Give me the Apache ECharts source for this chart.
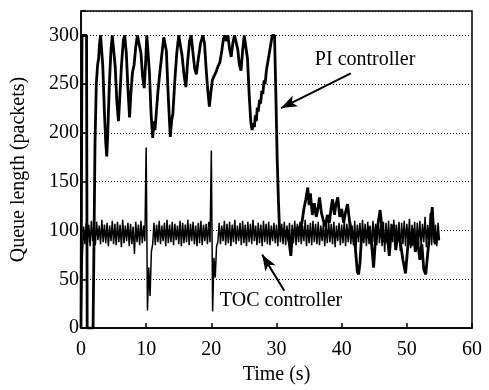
<!DOCTYPE html>
<html>
<head>
<meta charset="utf-8">
<script src="https://cdn.jsdelivr.net/npm/echarts@6/dist/echarts.min.js"></script>
<style>
  html, body { margin: 0; padding: 0; background: #fff; }
  #chart { width: 489px; height: 390px; }
</style>
</head>
<body>
<div id="chart"></div>
<script>
// PI controller queue length (time in s, packets)
const piTime = [
  0, 0.15, 0.85, 0.95, 1.85, 1.95, 2.15, 2.35, 2.55, 2.7,
  2.85, 3.0, 3.15, 3.35, 3.6, 3.8, 3.95, 4.1, 4.35, 4.6,
  4.8, 5.0, 5.25, 5.5, 5.75, 5.95, 6.2, 6.5, 6.7, 6.95,
  7.2, 7.45, 7.65, 7.9, 8.15, 8.4, 8.65, 8.95, 9.2, 9.45,
  9.7, 9.9, 10.1, 10.3, 10.5, 10.75, 11.0, 11.2, 11.35, 11.55,
  11.8, 12.1, 12.4, 12.7, 12.9, 13.1, 13.4, 13.7, 13.9, 14.1,
  14.4, 14.7, 15.0, 15.25, 15.5, 15.8, 16.1, 16.35, 16.65, 16.9,
  17.15, 17.45, 17.7, 18.0, 18.35, 18.7, 18.95, 19.2, 19.45, 19.7,
  19.9, 20.15, 20.4, 20.7, 21.0, 21.3, 21.6, 21.85, 22.05, 22.3,
  22.55, 22.8, 23.05, 23.3, 23.55, 23.8, 24.05, 24.3, 24.55, 24.8,
  25.05, 25.3, 25.55, 25.8, 26.05, 26.25, 26.45, 26.6, 26.75, 26.9,
  27.05, 27.2, 27.4, 27.55, 27.75, 27.9, 28.1, 28.25, 28.45, 28.6,
  28.8, 28.95, 29.15, 29.35, 29.7, 29.9, 30.1, 30.3, 30.45, 30.7,
  31.0, 31.3, 31.6, 31.9, 32.2, 32.4, 32.7, 33.0, 33.3, 33.6,
  33.9, 34.2, 34.5, 34.8, 35.0, 35.2, 35.5, 35.8, 36.1, 36.4,
  36.6, 36.9, 37.2, 37.5, 37.8, 38.1, 38.4, 38.6, 38.9, 39.1,
  39.4, 39.7, 40.0, 40.3, 40.6, 40.9, 41.2, 41.5, 41.8, 42.1,
  42.4, 42.6, 42.8, 43.0, 43.4, 43.8, 44.2, 44.6, 44.9, 45.2,
  45.6, 45.9, 46.2, 46.6, 47.0, 47.3, 47.6, 48.0, 48.3, 48.6,
  49.0, 49.4, 49.8, 50.1, 50.4, 50.7, 51.0, 51.3, 51.6, 52.0,
  52.3, 52.6, 52.9, 53.2, 53.5, 53.7, 53.9, 54.1, 54.4, 54.7,
  54.9
];
const piQueue = [
  0, 300, 300, 0, 0, 60, 190, 250, 270, 276,
  292, 300, 300, 268, 220, 190, 176, 198, 250, 285,
  300, 300, 268, 232, 212, 236, 268, 295, 300, 282,
  246, 216, 240, 262, 270, 288, 300, 300, 282, 258,
  246, 270, 300, 300, 262, 220, 195, 212, 203, 220,
  242, 262, 280, 298, 300, 284, 236, 196, 212, 220,
  254, 282, 300, 300, 280, 260, 247, 272, 294, 300,
  284, 266, 260, 276, 292, 300, 292, 266, 244, 227,
  240, 254, 258, 262, 268, 272, 284, 296, 300, 294,
  300, 286, 278, 292, 300, 300, 286, 270, 264, 284,
  300, 300, 276, 240, 212, 203, 210, 206, 218, 212,
  226, 222, 234, 230, 243, 240, 254, 250, 264, 262,
  278, 276, 292, 300, 300, 240, 175, 130, 104, 96,
  102, 94, 100, 90, 74, 92, 101, 95, 104, 98,
  108, 122, 132, 144, 126, 138, 116, 128, 114, 124,
  134, 118, 110, 104, 116, 108, 124, 132, 116, 126,
  134, 114, 122, 108, 119, 127, 110, 100, 94, 82,
  58, 55, 66, 88, 101, 92, 104, 86, 62, 92,
  108, 121, 102, 88, 96, 74, 98, 106, 80, 96,
  88, 70, 56, 80, 98, 84, 102, 78, 92, 70,
  86, 60, 55, 76, 96, 110, 124, 100, 86, 96,
  90
];

// TOC controller queue length, one sample every tocStep seconds from 0 s
const tocStep = 0.2;
const tocQueue = [
  0, 72, 104, 86, 108, 88, 106, 84, 110, 89,
  107, 85, 109, 90, 105, 86, 111, 88, 106, 87,
  108, 84, 105, 89, 110, 86, 107, 85, 109, 88,
  106, 83, 111, 87, 105, 89, 108, 84, 107, 86,
  104, 76, 109, 88, 106, 85, 110, 87, 105, 89,
  185, 18, 62, 33, 78, 86, 108, 85, 106, 88,
  110, 86, 105, 89, 108, 84, 111, 87, 106, 88,
  109, 85, 107, 90, 105, 86, 110, 84, 108, 87,
  106, 88, 111, 85, 107, 89, 109, 86, 105, 84,
  108, 87, 110, 85, 106, 89, 107, 86, 109, 88,
  182, 17, 72, 52, 84, 88, 108, 86, 105, 89,
  110, 85, 107, 87, 109, 84, 106, 88, 111, 86,
  105, 89, 108, 85, 110, 87, 106, 84, 109, 88,
  107, 86, 111, 89, 105, 85, 108, 87, 106, 84,
  110, 88, 107, 86, 109, 85, 105, 89, 108, 87,
  106, 84, 110, 88, 107, 86, 109, 85, 105, 89,
  108, 76, 106, 87, 110, 85, 107, 88, 109, 86,
  105, 89, 111, 84, 106, 87, 108, 85, 110, 88,
  107, 86, 109, 85, 105, 89, 108, 84, 106, 87,
  110, 88, 107, 86, 109, 83, 105, 89, 108, 85,
  106, 87, 111, 84, 107, 88, 109, 86, 105, 85,
  110, 82, 106, 88, 108, 85, 111, 87, 107, 84,
  109, 86, 105, 80, 110, 88, 107, 85, 112, 87,
  106, 84, 109, 78, 108, 86, 110, 83, 107, 88,
  111, 85, 106, 87, 109, 79, 108, 86, 110, 84,
  107, 88, 112, 82, 106, 85, 109, 80, 108, 86,
  110, 84, 107, 88, 114, 83, 106, 86, 118, 85,
  109, 87, 106, 84, 108, 90
];

const xTicks = [0, 10, 20, 30, 40, 50, 60];
const yTicks = [0, 50, 100, 150, 200, 250, 300];

const font = 'Liberation Serif';
const piData = piTime.map((t, i) => [t, piQueue[i]]);
const tocData = tocQueue.map((v, i) => [+(i * tocStep).toFixed(2), v]);

const chart = echarts.init(document.getElementById('chart'));
chart.setOption({
  animation: false,
  grid: {
    left: 81, right: 17, top: 11, bottom: 57,
    show: true, borderColor: '#000', borderWidth: 1.5, backgroundColor: '#fff'
  },
  xAxis: {
    type: 'value', min: 0, max: 60, interval: 10,
    name: 'Time (s)', nameLocation: 'middle', nameGap: 32,
    nameTextStyle: { fontFamily: font, fontSize: 20, color: '#000' },
    axisLine: { onZero: false, lineStyle: { color: '#000', width: 1.5 } },
    axisTick: { inside: true, length: 5, lineStyle: { color: '#000', width: 1.5 } },
    axisLabel: {
      margin: 12, fontFamily: font, fontSize: 20, color: '#000',
      formatter: v => xTicks.includes(v) ? String(v) : ''
    },
    splitLine: { show: false }
  },
  yAxis: {
    type: 'value', min: 0, max: 325, interval: 50,
    name: 'Queue length (packets)', nameLocation: 'middle', nameGap: 52,
    nameTextStyle: { fontFamily: font, fontSize: 20, color: '#000' },
    axisLine: { lineStyle: { color: '#000', width: 1.5 } },
    axisTick: { inside: true, length: 5, lineStyle: { color: '#000', width: 1.5 } },
    axisLabel: {
      margin: 2, fontFamily: font, fontSize: 20, color: '#000',
      formatter: v => yTicks.includes(v) ? String(v) : ''
    },
    splitLine: { show: true, lineStyle: { color: '#000', width: 1, type: [1, 2] } }
  },
  series: [
    {
      name: 'PI controller', type: 'line', data: piData,
      showSymbol: false, symbol: 'none', clip: true,
      lineStyle: { color: '#000', width: 2.8 },
      markLine: {
        silent: true, symbol: ['none', 'arrow'], symbolSize: [9, 16],
        lineStyle: { color: '#000', width: 2, type: 'solid' },
        label: { show: false },
        data: [[{ coord: [41.4, 261] }, { coord: [30.7, 225.5] }]]
      },
      markPoint: {
        silent: true, symbol: 'circle', symbolSize: 0,
        label: { show: true, position: 'inside', color: '#000', fontFamily: font, fontSize: 20,
          formatter: 'PI controller' },
        data: [{ coord: [43.6, 275] }]
      }
    },
    {
      name: 'TOC controller', type: 'line', data: tocData,
      showSymbol: false, symbol: 'none', clip: true,
      lineStyle: { color: '#000', width: 1.5 },
      markLine: {
        silent: true, symbol: ['none', 'arrow'], symbolSize: [9, 16],
        lineStyle: { color: '#000', width: 2, type: 'solid' },
        label: { show: false },
        data: [[{ coord: [31.2, 38.3] }, { coord: [27.8, 75.3] }]]
      },
      markPoint: {
        silent: true, symbol: 'circle', symbolSize: 0,
        label: { show: true, position: 'inside', color: '#000', fontFamily: font, fontSize: 20,
          formatter: 'TOC controller' },
        data: [{ coord: [30.7, 28.2] }]
      }
    }
  ]
});
</script>
</body>
</html>
